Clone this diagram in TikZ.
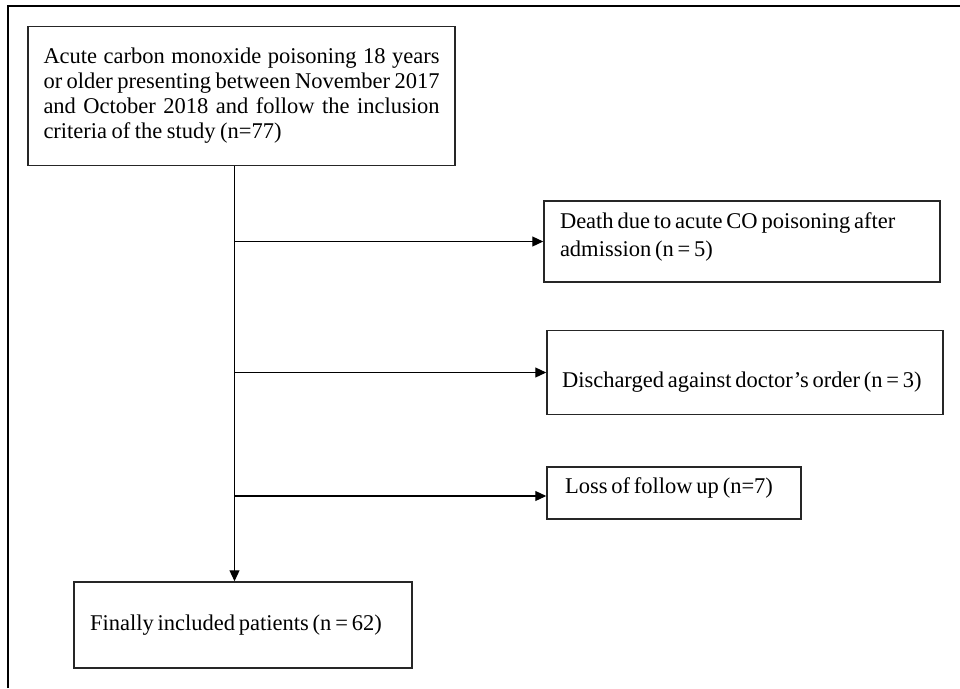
\documentclass[tikz,border=0pt]{standalone}
\usepackage{fontspec}
\setmainfont{Liberation Serif}
\usetikzlibrary{arrows.meta, positioning}

\newcommand\tightspace{\spaceskip=0.17em plus 0.1em minus 0.05em\relax}
\newcommand\looseblock{\spaceskip=0.2em plus 0.5em minus 0.05em\relax}

\begin{document}
\begin{tikzpicture}[x=1pt,y=1pt,>={Triangle[length=11pt,width=10pt]},line width=1.2pt]
        \tikzstyle{box}=[draw=black!85,line width=1.5pt,rectangle,inner sep=0pt,align=justify,
                         font=\fontsize{22.5}{28}\selectfont\tightspace]

        \useasboundingbox (0,0) rectangle (960,-688);
        \draw (8,-688) -- (8,-6) -- (960,-6);

        \node[box,minimum width=427pt,minimum height=139pt,text width=396pt,
              font=\fontsize{22.5}{25}\selectfont\looseblock] (A) at (241.5,-96)
              {Acute carbon monoxide poisoning 18 years\linebreak
               or older presenting between November 2017\linebreak
               and October 2018 and follow the inclusion\linebreak
               criteria of the study (n=77)};
        \node[box,minimum width=396pt,minimum height=81pt,text width=364pt] (B) at (742,-241.5)
              {Death due to acute CO poisoning after\\admission (n = 5)\rule[-13pt]{0pt}{13pt}};
        \node[box,minimum width=396pt,minimum height=84pt,text width=366pt] (C) at (745,-372.5)
              {\rule{0pt}{35pt}Discharged against doctor’s order (n = 3)};
        \node[box,minimum width=254pt,minimum height=52pt,text width=218pt] (D) at (674,-493)
              {Loss of follow up (n=7)\rule[-15pt]{0pt}{15pt}};
        \node[box,minimum width=338pt,minimum height=86pt,text width=306pt] (E) at (243,-625)
              {Finally included patients (n = 62)};

        \coordinate (T) at ([xshift=-7pt]A.south);
        \draw[->] (T) -- (T |- E.north);
        \draw[->] (T |- B.west) -- (B.west);
        \draw[->] (T |- C.west) -- (C.west);
        \draw[->] ([yshift=-3pt]T |- D.west) -- ([yshift=-3pt]D.west);
\end{tikzpicture}
\end{document}
